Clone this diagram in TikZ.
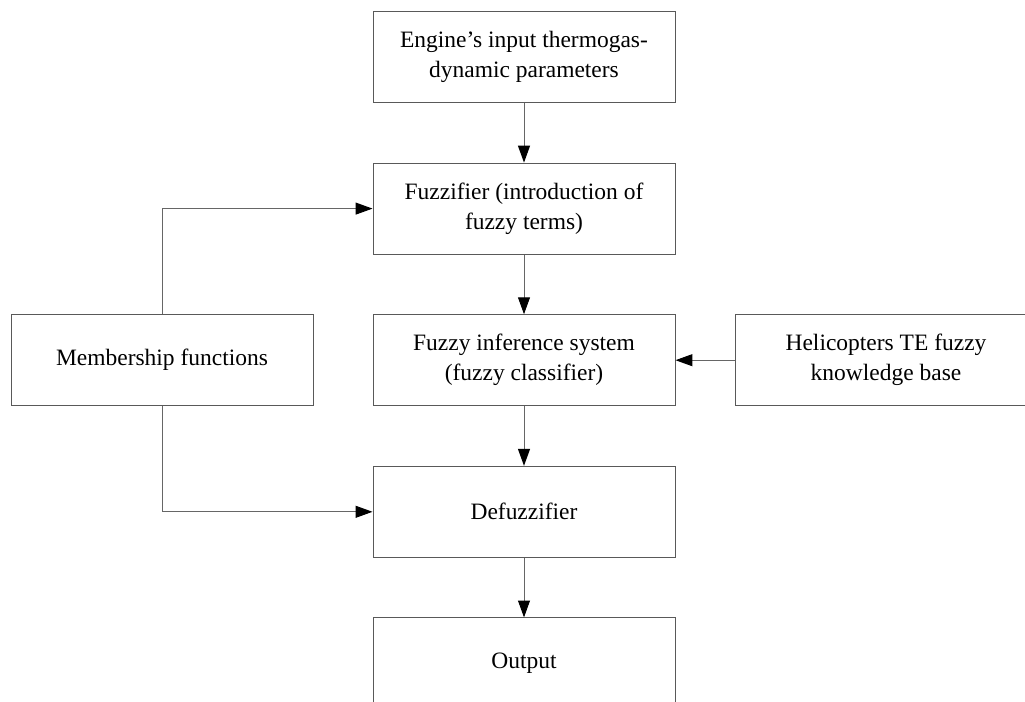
\documentclass[tikz,border=0pt]{standalone}
\usepackage{fontspec}
\setmainfont{Liberation Serif}
\usetikzlibrary{arrows.meta,calc}

\tikzset{
  block/.style={draw=black!65, line width=0.7pt, fill=white,
    minimum width=7.55cm, minimum height=2.275cm, align=center,
    inner sep=0pt, font=\fontsize{16.7}{21.3}\selectfont},
  flow/.style={draw=black!60, line width=0.7pt,
    -{Triangle[length=12pt,width=8.5pt,black]}},
}

\begin{document}
\begin{tikzpicture}
    \def\colL{4.05}\def\colM{13.1}\def\colR{22.15}
    \def\dy{3.79}
    \useasboundingbox (0,0) rectangle (25.625,-17.55);
    \clip (0,0) rectangle (25.625,-17.55);
    % Main chain
    \node[block] (input)  at (\colM,-1.425) {Engine's input thermogas-\\dynamic parameters};
    \node[block] (fuzz)   at (\colM,-1.425-\dy) {Fuzzifier (introduction of\\fuzzy terms)};
    \node[block] (fis)    at (\colM,-1.425-2*\dy) {Fuzzy inference system\\(fuzzy classifier)};
    \node[block] (defuzz) at (\colM,-1.425-3*\dy) {Defuzzifier};
    \node[block] (output) at (\colM,-1.425-4*\dy) {Output};
    % Side blocks
    \node[block] (member) at (\colL,-1.425-2*\dy) {Membership functions};
    \node[block] (kbase)  at (\colR,-1.425-2*\dy) {Helicopters TE fuzzy\\knowledge base};
    % Connectors
    \draw[flow] (input) -- (fuzz);
    \draw[flow] (fuzz) -- (fis);
    \draw[flow] (fis) -- (defuzz);
    \draw[flow] (defuzz) -- (output);
    \draw[flow] (kbase) -- (fis);
    \draw[flow] (member.north) |- (fuzz.west);
    \draw[flow] (member.south) |- (defuzz.west);
\end{tikzpicture}
\end{document}
